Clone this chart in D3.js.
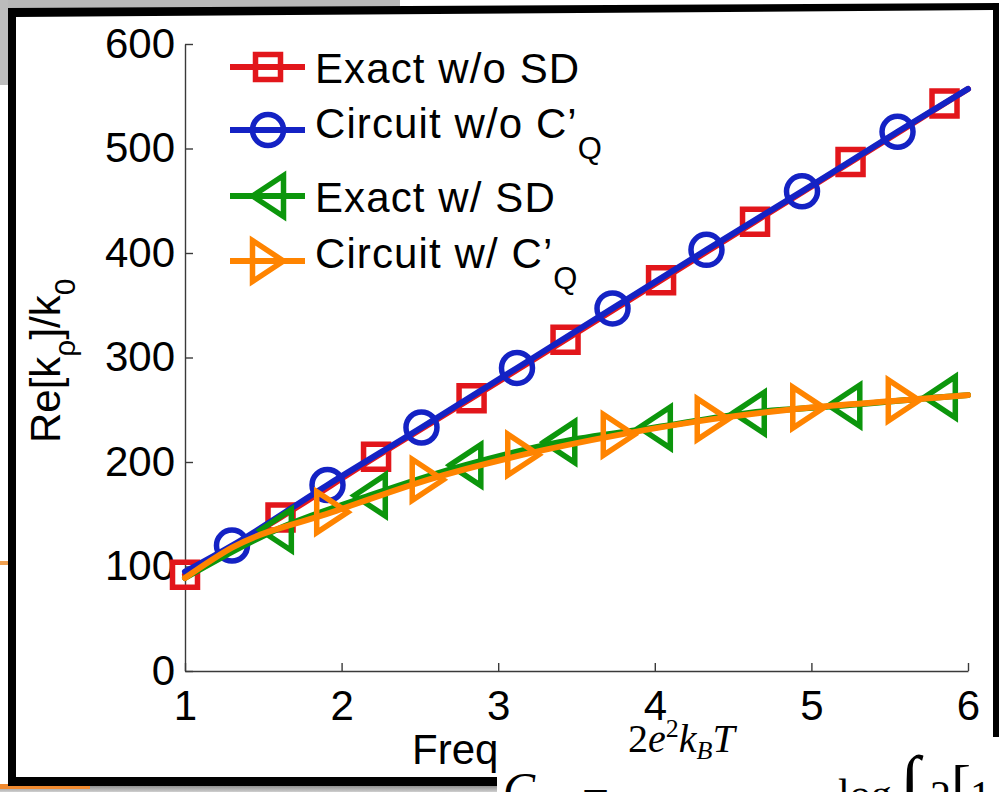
<!DOCTYPE html>
<html>
<head>
<meta charset="utf-8">
<script src="https://cdn.jsdelivr.net/npm/d3@7"></script>
<style>
  html, body { margin: 0; padding: 0; background: #ffffff; }
  svg { display: block; }
</style>
</head>
<body>
<svg id="chart" width="999" height="792" font-family="Liberation Sans, Arial, Helvetica, sans-serif"></svg>
<script>
// ---------------- data ----------------
const xTicks = [1, 2, 3, 4, 5, 6];
const yTicks = [0, 100, 200, 300, 400, 500, 600];

// Exact w/o SD (red squares)
const exactNoSD_x = [1.00, 1.61, 2.22, 2.83, 3.43, 4.04, 4.64, 5.25, 5.85];
const exactNoSD_y = [92, 147, 205, 261, 317, 374, 430, 487, 543];
const exactNoSDLine_x = [1.00, 1.61, 2.22, 2.83, 3.43, 4.04, 4.64, 5.25, 5.85, 6.00];
const exactNoSDLine_y = [92, 147, 205, 261, 317, 374, 430, 487, 543, 557];

// Circuit w/o C'Q (blue circles)
const circNoCQ_x = [1.30, 1.91, 2.51, 3.12, 3.73, 4.33, 4.94, 5.55];
const circNoCQ_y = [120, 178, 233, 290, 347, 403, 459, 516];
const circNoCQLine_x = [1.00, 1.30, 1.91, 2.51, 3.12, 3.73, 4.33, 4.94, 5.55, 6.00];
const circNoCQLine_y = [95, 120, 178, 233, 290, 347, 403, 459, 516, 557];

// Exact w/ SD (green left triangles)
const exactSD_x = [1.58, 2.18, 2.79, 3.39, 4.00, 4.60, 5.21, 5.82];
const exactSD_y = [135, 168, 197, 219, 233, 247, 254, 262];
const exactSDLine_x = [1.00, 1.58, 2.18, 2.79, 3.39, 4.00, 4.60, 5.21, 5.82, 6.00];
const exactSDLine_y = [89, 135, 168, 197, 219, 233, 247, 254, 262, 264];

// Circuit w/ C'Q (orange right triangles)
const circCQ_x = [1.94, 2.55, 3.16, 3.77, 4.37, 4.98, 5.59];
const circCQ_y = [152, 183, 207, 226, 241, 252, 259];
const circCQLine_x = [1.00, 1.30, 1.94, 2.55, 3.16, 3.77, 4.37, 4.98, 5.59, 6.00];
const circCQLine_y = [89, 118, 152, 183, 207, 226, 241, 252, 259, 264];

const legendLabels = ["Exact w/o SD", "Circuit w/o C\u2019", "Exact w/ SD", "Circuit w/ C\u2019"];
const legendSubs = ["", "Q", "", "Q"];

// ---------------- setup ----------------
const svg = d3.select("#chart");
const W = 999, H = 792;

const RED = "#e2161b", BLUE = "#1422c4", GREEN = "#0c960c", ORANGE = "#ff8400";

// --- slide surroundings ---
svg.append("rect").attr("x", 0).attr("y", 0).attr("width", W).attr("height", H).attr("fill", "#ffffff");
svg.append("rect").attr("x", 0).attr("y", 0).attr("width", 400).attr("height", 8).attr("fill", "#b8b8b8");
svg.append("rect").attr("x", 0).attr("y", 0).attr("width", 8).attr("height", 85).attr("fill", "#bcbcbc");
svg.append("rect").attr("x", 0).attr("y", 561).attr("width", 8).attr("height", 4).attr("fill", "#f0a050");

const grad = svg.append("defs").append("linearGradient").attr("id", "bot").attr("x1", 0).attr("y1", 0).attr("x2", 0).attr("y2", 1);
grad.append("stop").attr("offset", "0%").attr("stop-color", "#7a7a7a");
grad.append("stop").attr("offset", "100%").attr("stop-color", "#d0d0d0");
svg.append("rect").attr("x", 0).attr("y", 784).attr("width", 500).attr("height", 8).attr("fill", "url(#bot)");
svg.append("rect").attr("x", 0).attr("y", 784).attr("width", 90).attr("height", 5).attr("fill", "#f08a30");

// black frame
svg.append("polygon").attr("points", "8,8 999,3 999,786 8,786").attr("fill", "#000");
svg.append("polygon").attr("points", "16,17 993,10 993,777 16,777").attr("fill", "#fff");

// ---------------- scales ----------------
const x = d3.scaleLinear().domain([1, 6]).range([185, 968]);
const y = d3.scaleLinear().domain([0, 600]).range([671, 44]);

const g = svg.append("g");

// axes
const yAxis = d3.axisLeft(y).tickValues(yTicks).tickFormat(d3.format("d"))
  .tickSizeInner(-8).tickSizeOuter(0).tickPadding(10);
const xAxis = d3.axisBottom(x).tickValues(xTicks).tickFormat(d3.format("d"))
  .tickSizeInner(-8).tickSizeOuter(0).tickPadding(19);

const gy = g.append("g").attr("transform", `translate(${x(1)},0)`).call(yAxis);
const gx = g.append("g").attr("transform", `translate(0,${y(0)})`).call(xAxis);
[gx, gy].forEach(a => {
  a.attr("font-family", null).attr("font-size", null);
  a.selectAll("path.domain").attr("stroke", "#3a3a3a").attr("stroke-width", 1.4);
  a.selectAll(".tick line").attr("stroke", "#3a3a3a").attr("stroke-width", 1.4);
  a.selectAll(".tick text").attr("font-size", 42).attr("fill", "#000");
});

// ---------------- series ----------------
function zip(xs, ys) { return xs.map((v, i) => [v, ys[i]]); }
const line = d3.line().x(d => x(d[0])).y(d => y(d[1])).curve(d3.curveMonotoneX);

function sqPath(s) { const h = s / 2; return `M${-h},${-h}H${h}V${h}H${-h}Z`; }
function triLeft(w, h) { return `M${-w/2},0L${w/2},${-h/2}L${w/2},${h/2}Z`; }
function triRight(w, h) { return `M${w/2},0L${-w/2},${-h/2}L${-w/2},${h/2}Z`; }

const series = [
  { lx: exactNoSDLine_x, ly: exactNoSDLine_y, mx: exactNoSD_x, my: exactNoSD_y, color: RED,
    marker: () => sqPath(25) },
  { lx: circNoCQLine_x, ly: circNoCQLine_y, mx: circNoCQ_x, my: circNoCQ_y, color: BLUE,
    marker: null },
  { lx: exactSDLine_x, ly: exactSDLine_y, mx: exactSD_x, my: exactSD_y, color: GREEN,
    marker: () => triLeft(31, 41) },
  { lx: circCQLine_x, ly: circCQLine_y, mx: circCQ_x, my: circCQ_y, color: ORANGE,
    marker: () => triRight(31, 41) }
];

series.forEach(s => {
  const sg = g.append("g");
  sg.append("path").attr("d", line(zip(s.lx, s.ly))).attr("fill", "none")
    .attr("stroke", s.color).attr("stroke-width", 6).attr("stroke-linecap", "round");
  const pts = zip(s.mx, s.my);
  if (s.marker) {
    sg.selectAll("path.m").data(pts).join("path").attr("class", "m")
      .attr("d", s.marker())
      .attr("transform", d => `translate(${x(d[0])},${y(d[1])})`)
      .attr("fill", "none").attr("stroke", s.color).attr("stroke-width", 5.5)
      .attr("stroke-linejoin", "miter");
  } else {
    sg.selectAll("circle.m").data(pts).join("circle").attr("class", "m")
      .attr("cx", d => x(d[0])).attr("cy", d => y(d[1])).attr("r", 15.5)
      .attr("fill", "none").attr("stroke", s.color).attr("stroke-width", 5.5);
  }
});

// ---------------- legend ----------------
const legRowsLine = [67, 130, 196, 261];
const legRowsText = [83, 138, 212, 268];
const lg = g.append("g");
series.forEach((s, i) => {
  lg.append("line").attr("x1", 230).attr("x2", 305).attr("y1", legRowsLine[i]).attr("y2", legRowsLine[i])
    .attr("stroke", s.color).attr("stroke-width", 6);
  if (s.marker) {
    lg.append("path").attr("d", s.marker()).attr("transform", `translate(268,${legRowsLine[i]})`)
      .attr("fill", "none").attr("stroke", s.color).attr("stroke-width", 5.5);
  } else {
    lg.append("circle").attr("cx", 268).attr("cy", legRowsLine[i]).attr("r", 15.5)
      .attr("fill", "none").attr("stroke", s.color).attr("stroke-width", 5.5);
  }
  const t = lg.append("text").attr("x", 315).attr("y", legRowsText[i]).attr("font-size", 42)
    .attr("letter-spacing", 1.1);
  t.append("tspan").text(legendLabels[i]);
  if (legendSubs[i]) {
    t.append("tspan").attr("dy", 21).attr("font-size", 31).text(legendSubs[i]);
  }
});

// ---------------- axis labels ----------------
const yl = svg.append("text").attr("transform", "translate(60,443) rotate(-90)").attr("font-size", 42);
yl.append("tspan").text("Re[k");
yl.append("tspan").attr("font-size", 30).attr("dy", 15).text("\u03c1");
yl.append("tspan").attr("dy", -15).text("]/k");
yl.append("tspan").attr("font-size", 30).attr("dy", 15).text("0");

svg.append("text").attr("x", 412).attr("y", 764).attr("font-size", 42).text("Frequency (THz)");

// ---------------- overlaid formula box ----------------
svg.append("rect").attr("x", 497).attr("y", 728).attr("width", 502).attr("height", 64).attr("fill", "#fff");
svg.append("rect").attr("x", 993).attr("y", 3).attr("width", 6).attr("height", 734).attr("fill", "#000");

const ff = "Liberation Serif, DejaVu Serif, serif";
svg.append("text").attr("x", 503).attr("y", 806).attr("font-family", ff).attr("font-style", "italic")
  .attr("font-size", 48).text("C");
svg.append("text").attr("x", 582).attr("y", 812).attr("font-family", ff).attr("font-size", 48).text("=");
const num = svg.append("text").attr("x", 628).attr("y", 752).attr("font-family", ff).attr("font-size", 40);
num.append("tspan").text("2");
num.append("tspan").attr("font-style", "italic").text("e");
num.append("tspan").attr("font-size", 26).attr("dy", -15).text("2");
num.append("tspan").attr("font-style", "italic").attr("dy", 15).text("k");
num.append("tspan").attr("font-style", "italic").attr("font-size", 26).attr("dy", 7).text("B");
num.append("tspan").attr("font-style", "italic").attr("dy", -7).text("T");
svg.append("text").attr("x", 838).attr("y", 808).attr("font-family", ff).attr("font-size", 42).text("log");
svg.append("text").attr("x", 900).attr("y", 806).attr("font-family", ff).attr("font-size", 72).text("\u222b");
svg.append("text").attr("x", 930).attr("y", 810).attr("font-family", ff).attr("font-size", 42).text("2");
svg.append("text").attr("x", 951).attr("y", 806).attr("font-family", ff).attr("font-size", 60).text("[");
svg.append("text").attr("x", 970).attr("y", 810).attr("font-family", ff).attr("font-size", 42).text("1");
</script>
</body>
</html>
